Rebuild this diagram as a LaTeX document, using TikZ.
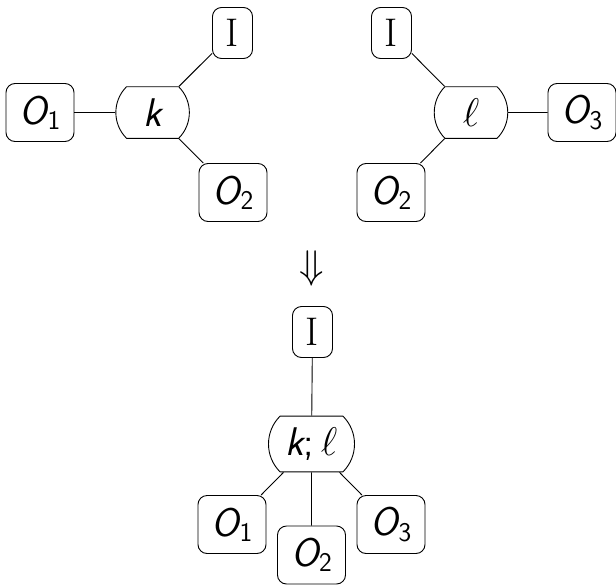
\RequirePackage{fix-cm}
\documentclass[tikz,border=0pt]{standalone}
\usepackage{fontspec}
\usetikzlibrary{shapes.misc}

% sans italic letters as in a sans-serif math setting
\newcommand\sfit[1]{{\sffamily\itshape #1}}
% output wire label O_n
\newcommand\outp[1]{\sfit{O}\raisebox{-0.13em}{\sffamily\fontsize{27}{27}\selectfont #1}}

\begin{document}
\begin{tikzpicture}[x=1pt,y=1pt,
  every node/.style={font=\fontsize{40}{48}\selectfont},
  box/.style={draw, rounded corners=9pt, inner sep=0pt, line width=0.9pt,
              minimum width=68pt, minimum height=58pt},
  ibox/.style={box, minimum width=40pt, minimum height=51pt},
  gate/.style={draw, rounded rectangle, rounded rectangle arc length=90,
               inner sep=0pt, line width=0.9pt,
               minimum width=73.5pt, minimum height=51.6pt},
  biggate/.style={gate, minimum width=86pt, minimum height=55.7pt},
  wire/.style={line width=0.9pt}]
\useasboundingbox (0,0) rectangle (616,-584);

% first process k
\node[box]  (ka) at (40,-112.5)    {\outp{1}};
\node[gate] (k)  at (152.6,-112.5) {\sfit{k}};
\node[ibox] (ki) at (232.5,-33)    {I};
\node[box]  (kb) at (233,-192.5)   {\outp{2}};
\draw[wire] (ka) -- (k);
\draw[wire] (k) -- (ki);
\draw[wire] (k) -- (kb);

% second process l
\node[ibox] (li) at (391.5,-33)    {I};
\node[gate] (l)  at (471,-112.5)   {$\ell$};
\node[box]  (lc) at (582,-112.5)   {\outp{3}};
\node[box]  (lb) at (391,-192.5)   {\outp{2}};
\draw[wire] (li) -- (l);
\draw[wire] (l) -- (lc);
\draw[wire] (l) -- (lb);

% composition
\node (arr) at (312,-268) {$\Downarrow$};
\node[ibox]    (ci) at (312.5,-332)  {I};
\node[biggate] (kl) at (311.5,-444)  {\sfit{k}\sffamily;\,$\ell$};
\node[box]     (ca) at (232,-524.5)  {\outp{1}};
\node[box]     (cb) at (311.5,-555)  {\outp{2}};
\node[box]     (cc) at (391,-524.5)  {\outp{3}};
\draw[wire] (ci) -- (kl);
\draw[wire] (kl) -- (ca);
\draw[wire] (kl) -- (cb);
\draw[wire] (kl) -- (cc);
\end{tikzpicture}
\end{document}
